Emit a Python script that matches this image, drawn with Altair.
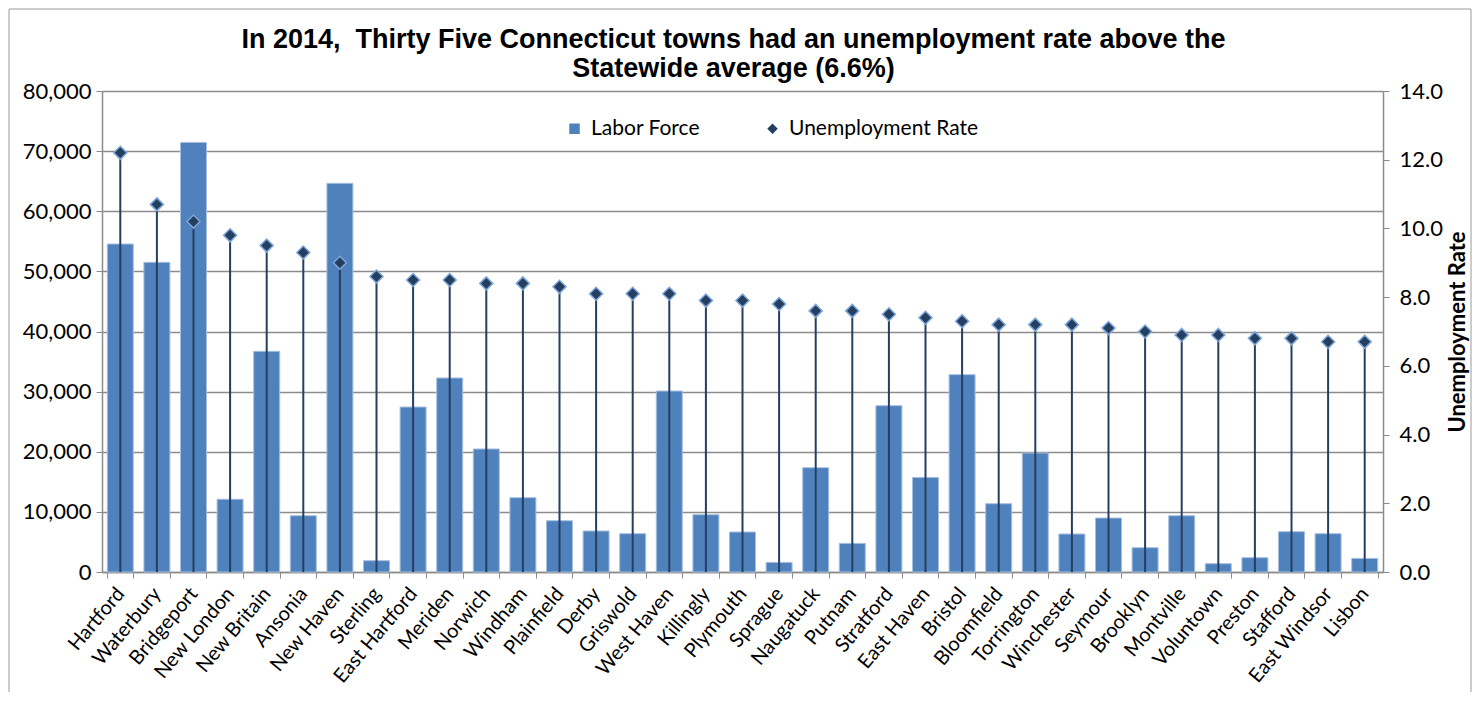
import altair as alt
import pandas as pd

towns = ["Hartford", "Waterbury", "Bridgeport", "New London", "New Britain", "Ansonia",
         "New Haven", "Sterling", "East Hartford", "Meriden", "Norwich", "Windham",
         "Plainfield", "Derby", "Griswold", "West Haven", "Killingly", "Plymouth",
         "Sprague", "Naugatuck", "Putnam", "Stratford", "East Haven", "Bristol",
         "Bloomfield", "Torrington", "Winchester", "Seymour", "Brooklyn", "Montville",
         "Voluntown", "Preston", "Stafford", "East Windsor", "Lisbon"]
labor_force = [54550, 51500, 71450, 12100, 36700, 9360, 64650, 1880, 27440, 32270,
               20460, 12360, 8530, 6820, 6370, 30100, 9530, 6650, 1600, 17350,
               4760, 27660, 15730, 32820, 11360, 19790, 6320, 8980, 4040, 9360,
               1380, 2380, 6700, 6370, 2260]
unemployment_rate = [12.2, 10.7, 10.2, 9.8, 9.5, 9.3, 9.0, 8.6, 8.5, 8.5,
                     8.4, 8.4, 8.3, 8.1, 8.1, 8.1, 7.9, 7.9, 7.8, 7.6,
                     7.6, 7.5, 7.4, 7.3, 7.2, 7.2, 7.2, 7.1, 7.0, 6.9,
                     6.9, 6.8, 6.8, 6.7, 6.7]
series = ["Labor Force", "Unemployment Rate"]
left_ticks = [0, 10000, 20000, 30000, 40000, 50000, 60000, 70000, 80000]
right_ticks = [0, 2, 4, 6, 8, 10, 12, 14]

df = pd.DataFrame({"town": towns, "labor": labor_force, "rate": unemployment_rate})
legend_df = pd.DataFrame({"series": series})
frame_df = pd.DataFrame({"k": [0]})

W, H = 1281, 481
FONT = "Lato"
GRID = "#8c8c8c"

x_axis = alt.Axis(title=None, labelAngle=-50, labelFontSize=20, labelFont=FONT,
                  labelColor="#000", tickBand="extent", tickColor=GRID, tickSize=6,
                  domainColor=GRID, domainWidth=1.5, labelPadding=12)
x_enc = alt.X("town:N", sort=towns,
              scale=alt.Scale(paddingInner=0.29, paddingOuter=0.145), axis=x_axis)

frame = alt.Chart(frame_df).mark_rect(fillOpacity=0, stroke="#999999", strokeWidth=1).encode(
    x=alt.value(-93), x2=alt.value(1369), y=alt.value(-82), y2=alt.value(700))

bars = alt.Chart(df).mark_bar(color="#4F81BD", stroke="#A7BFDE", strokeWidth=1).encode(
    x=x_enc,
    y=alt.Y("labor:Q", scale=alt.Scale(domain=[0, 80000], nice=False),
            axis=alt.Axis(title=None, values=left_ticks, format=",.0f", grid=True,
                          gridColor=GRID, gridWidth=1.5, labelFontSize=22, labelFont=FONT,
                          labelColor="#000", tickColor=GRID, tickSize=6,
                          domainColor=GRID, domainWidth=1.5, labelPadding=5)))

y_right = alt.Scale(domain=[0, 14], nice=False)
right_axis = alt.Axis(title="Unemployment Rate", orient="right", values=right_ticks,
                      format=".1f", grid=False, labelFontSize=22, labelFont=FONT,
                      labelColor="#000", tickColor=GRID, tickSize=6, domainColor=GRID,
                      domainWidth=1.5, labelPadding=10, titleFont=FONT, titleFontSize=22,
                      titleFontWeight="bold", titleAngle=270, titleBaseline="top",
                      titlePadding=5, titleColor="#000")

rules = alt.Chart(df).mark_rule(color="#243F60", strokeWidth=2).encode(
    x=x_enc,
    y=alt.Y("rate:Q", scale=y_right, axis=right_axis),
    y2=alt.datum(0))

points = alt.Chart(df).mark_point(shape="diamond", filled=True, size=170, fill="#243F60",
                                  stroke="#7FA6D9", strokeWidth=1.5, opacity=1).encode(
    x=x_enc,
    y=alt.Y("rate:Q", scale=y_right, axis=right_axis))

leg = alt.Legend(title=None, orient="none", legendX=462, legendY=27, direction="horizontal",
                 labelFontSize=21, labelFont=FONT, labelColor="#000", symbolSize=110,
                 symbolOpacity=1, symbolStrokeColor="#7FA6D9", symbolStrokeWidth=1,
                 columnPadding=62, labelOffset=6, labelLimit=400)
legend_pts = alt.Chart(legend_df).mark_point(filled=True, size=110, opacity=0).encode(
    x=alt.value(0), y=alt.value(0),
    color=alt.Color("series:N", scale=alt.Scale(domain=series, range=["#4F81BD", "#243F60"]),
                    legend=leg),
    shape=alt.Shape("series:N", scale=alt.Scale(domain=series, range=["square", "diamond"]),
                    legend=leg))

right = alt.layer(rules, points, legend_pts)
chart = alt.layer(frame, bars, right).resolve_scale(y="independent").properties(
    width=W, height=H,
    autosize=alt.AutoSizeParams(type="none"),
    padding={"left": 94, "top": 83, "right": 89, "bottom": 120},
    title=alt.TitleParams(
        text=["In 2014, \u00a0Thirty Five Connecticut towns had an unemployment rate above the",
              "Statewide average (6.6%)"],
        font="Liberation Sans", fontSize=27, fontWeight="bold", color="#000",
        anchor="middle", frame="group", offset=10, lineHeight=29, dx=-9, dy=84),
).configure_view(strokeWidth=0).configure(background="white")

chart.save("out.html", embed_options={"renderer": "svg", "actions": False})
